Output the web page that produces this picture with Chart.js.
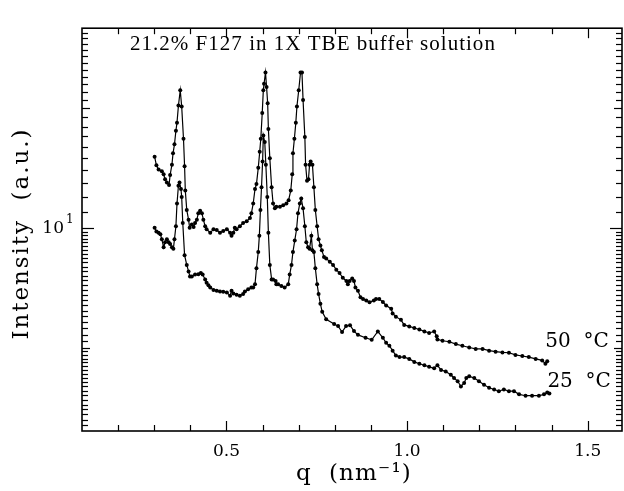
<!DOCTYPE html>
<html>
<head>
<meta charset="utf-8">
<script src="https://cdn.jsdelivr.net/npm/chart.js@4.4.1/dist/chart.umd.min.js"></script>
<style>
  html, body { margin: 0; padding: 0; background: #fff; overflow: hidden; }
  #wrap { width: 624px; height: 491px; }
</style>
</head>
<body>
<div id="wrap"><canvas id="c" width="624" height="491"></canvas></div>
<script>
// ---------- data ----------
const chartTitle = "21.2% F127 in 1X TBE buffer solution";
const xTitle = "q  (nm\u207B\u00B9)";
const yTitle = "Intensity  (a.u.)";
const seriesNames = ["50  \u00B0C", "25  \u00B0C"];

const qHot = [0.301,0.306,0.312,0.321,0.326,0.330,0.335,0.341,0.344,0.349,
0.352,0.356,0.360,0.363,0.367,0.372,0.376,0.381,0.384,0.386,
0.390,0.395,0.398,0.404,0.409,0.413,0.418,0.422,0.427,0.432,
0.436,0.441,0.445,0.455,0.464,0.473,0.482,0.491,0.501,0.510,
0.514,0.519,0.523,0.528,0.537,0.546,0.556,0.565,0.569,0.574,
0.579,0.583,0.588,0.592,0.595,0.599,0.602,0.604,0.608,0.611,
0.614,0.616,0.620,0.625,0.629,0.634,0.638,0.648,0.657,0.666,
0.672,0.678,0.682,0.684,0.688,0.692,0.695,0.700,0.705,0.709,
0.712,0.717,0.719,0.723,0.727,0.730,0.733,0.738,0.742,0.746,
0.751,0.755,0.760,0.764,0.770,0.776,0.786,0.795,0.804,0.813,
0.822,0.832,0.836,0.841,0.848,0.853,0.857,0.864,0.871,0.878,
0.887,0.896,0.908,0.914,0.923,0.933,0.942,0.956,0.960,0.969,
0.983,0.992,1.006,1.020,1.034,1.048,1.061,1.075,1.082,1.084,
1.098,1.117,1.135,1.153,1.172,1.190,1.209,1.227,1.245,1.264,
1.282,1.300,1.319,1.337,1.356,1.374,1.383,1.388];
const iHot = [15.12,14.38,14.03,13.90,13.65,13.27,13.02,12.83,13.60,14.43,
15.41,16.24,17.57,18.41,20.33,22.20,20.22,16.77,14.30,12.43,
11.11,10.50,10.02,10.21,10.07,10.30,10.50,10.90,11.06,10.90,
10.50,10.11,9.93,9.74,9.93,9.89,9.74,9.83,9.93,9.74,
9.56,9.74,10.02,9.93,10.11,10.30,10.40,10.60,10.90,11.53,
12.54,12.90,14.17,15.56,16.77,19.48,22.20,23.05,24.60,22.62,
20.60,17.74,14.98,12.66,11.53,11.21,11.32,11.32,11.42,11.53,
11.75,12.43,13.65,15.41,16.77,18.41,20.22,22.20,24.60,24.60,
20.99,16.93,14.43,13.15,13.27,14.43,14.71,14.43,12.66,11.11,
10.11,9.38,9.04,8.79,8.46,8.39,8.23,8.08,7.86,7.71,
7.50,7.36,7.22,7.36,7.47,7.36,7.09,6.96,6.70,6.63,
6.58,6.51,6.58,6.63,6.63,6.52,6.39,6.27,6.10,5.99,
5.88,5.71,5.66,5.61,5.56,5.50,5.45,5.50,5.35,5.25,
5.21,5.18,5.11,5.06,5.01,4.97,4.97,4.92,4.89,4.87,
4.86,4.80,4.77,4.74,4.69,4.65,4.56,4.63];

const qCold = [0.301,0.306,0.312,0.317,0.321,0.326,0.330,0.335,0.340,0.344,
0.349,0.353,0.356,0.360,0.363,0.367,0.370,0.374,0.376,0.379,
0.384,0.390,0.395,0.399,0.404,0.413,0.422,0.429,0.434,0.441,
0.445,0.450,0.455,0.464,0.473,0.482,0.491,0.501,0.510,0.514,
0.519,0.528,0.537,0.546,0.551,0.560,0.569,0.574,0.579,0.583,
0.588,0.591,0.594,0.597,0.600,0.602,0.606,0.609,0.613,0.616,
0.620,0.625,0.629,0.636,0.638,0.643,0.652,0.661,0.671,0.675,
0.680,0.684,0.689,0.694,0.698,0.703,0.707,0.712,0.717,0.721,
0.726,0.730,0.735,0.738,0.742,0.746,0.751,0.755,0.760,0.765,
0.776,0.798,0.809,0.820,0.831,0.842,0.853,0.864,0.885,0.902,
0.919,0.933,0.942,0.951,0.960,0.969,0.979,0.992,1.006,1.020,
1.034,1.048,1.061,1.075,1.084,1.094,1.107,1.121,1.130,1.140,
1.149,1.158,1.164,1.172,1.186,1.199,1.213,1.227,1.241,1.254,
1.268,1.282,1.296,1.310,1.328,1.346,1.365,1.379,1.388,1.394];
const iCold = [10.02,9.80,9.74,9.65,9.38,8.95,9.21,9.38,9.21,9.12,
8.95,8.87,9.38,10.11,11.53,12.78,13.02,12.54,11.97,10.30,
8.55,8.08,7.78,7.56,7.56,7.64,7.66,7.71,7.64,7.43,
7.29,7.18,7.09,6.99,6.96,6.93,6.92,6.89,6.76,6.96,
6.85,6.80,6.76,6.83,6.93,7.02,7.09,7.09,7.22,7.93,
8.71,9.56,11.11,12.66,14.71,17.08,16.45,14.43,11.97,9.74,
8.08,7.43,7.43,7.36,7.22,7.22,7.15,7.09,7.22,7.64,
8.08,8.71,9.30,9.93,10.90,11.53,11.86,11.21,10.11,9.21,
8.95,8.87,9.56,8.79,8.71,7.93,7.22,6.83,6.45,6.16,
5.90,5.74,5.67,5.48,5.67,5.70,5.51,5.39,5.30,5.24,
5.50,5.30,5.15,5.06,4.92,4.78,4.74,4.74,4.69,4.61,
4.56,4.52,4.48,4.44,4.52,4.40,4.36,4.28,4.20,4.12,
4.00,4.08,4.20,4.24,4.20,4.12,4.04,3.97,3.93,3.89,
3.93,3.89,3.89,3.82,3.79,3.79,3.79,3.82,3.86,3.84];

// axis ranges and tick values
const xRange = [0.1, 1.595];
const yRange = [3.09, 31.8];
const xLabelTicks = [0.5, 1.0, 1.5];
const xMinorTicks = [0.2,0.3,0.4,0.5,0.6,0.7,0.8,0.9,1.0,1.1,1.2,1.3,1.4,1.5];
const yLabelTicks = [10];
const yMinorTicks = [
  31,30,29,28,27,26,25,24,23,22,21,20,19,18,17,16,15,14,13,12,11,10,
  9.8,9.6,9.4,9.2,9.0,8.8,8.6,8.4,8.2,8.0,7.8,7.6,7.4,7.2,7.0,6.8,6.6,6.4,6.2,6.0,
  5.8,5.6,5.4,5.2,5.0,4.9,4.8,4.7,4.6,4.5,4.4,4.3,4.2,4.1,4.0,3.9,3.8,3.7,3.6,3.5,3.4,3.3,3.2
];
const yLongTicks = [10, 20, 5];

// ---------- chart ----------
const toPts = (xs, ys) => xs.map((x, i) => ({ x: x, y: ys[i] }));
const serif = "'DejaVu Serif', serif";

// draw text stretched to a target width with letter spacing
function spacedText(ctx, text, x, y, width) {
  ctx.letterSpacing = '0px';
  const w0 = ctx.measureText(text).width;
  const n = Array.from(text).length;
  const ls = Math.max(0, (width - w0) / n);
  ctx.letterSpacing = ls.toFixed(2) + 'px';
  ctx.fillText(text, x, y);
  ctx.letterSpacing = '0px';
}

const frameAndTicks = {
  id: 'frameAndTicks',
  afterDraw(chart) {
    const { ctx, chartArea: a, scales: { x, y } } = chart;
    ctx.save();
    ctx.strokeStyle = '#000';
    ctx.lineWidth = 1.6;
    ctx.strokeRect(a.left, a.top, a.right - a.left, a.bottom - a.top);
    ctx.lineWidth = 1.2;
    const seg = (x1, y1, x2, y2) => { ctx.beginPath(); ctx.moveTo(x1, y1); ctx.lineTo(x2, y2); ctx.stroke(); };
    xMinorTicks.forEach(v => {
      const px = Math.round(x.getPixelForValue(v)) + 0.5;
      const L = xLabelTicks.some(t => Math.abs(t - v) < 1e-9) ? 10 : 6;
      seg(px, a.bottom, px, a.bottom - L);
      seg(px, a.top, px, a.top + L);
    });
    yMinorTicks.forEach(v => {
      const py = Math.round(y.getPixelForValue(v)) + 0.5;
      const L = v === 10 ? 12 : (yLongTicks.includes(v) ? 8 : 6);
      seg(a.left, py, a.left + L, py);
      seg(a.right, py, a.right - L, py);
    });
    ctx.fillStyle = '#000';
    // superscript of the 10^1 label
    ctx.font = "12px " + serif;
    ctx.textAlign = 'left';
    ctx.textBaseline = 'middle';
    ctx.fillText('1', a.left - 16, y.getPixelForValue(10) - 8);
    // title inside the frame
    ctx.font = "21px 'Liberation Serif', serif";
    ctx.textBaseline = 'alphabetic';
    spacedText(ctx, chartTitle, a.left + 48, a.top + 22, 366);
    // axis titles
    ctx.font = "23px " + serif;
    ctx.textAlign = 'center';
    ctx.textBaseline = 'middle';
    spacedText(ctx, xTitle, (a.left + a.right) / 2 + 2, 474, 116);
    ctx.save();
    ctx.translate(22, (a.top + a.bottom) / 2 + 4);
    ctx.rotate(-Math.PI / 2);
    spacedText(ctx, yTitle, 0, 0, 212);
    ctx.restore();
    // series labels next to the last point of each curve
    ctx.font = "20px " + serif;
    ctx.textAlign = 'left';
    ctx.textBaseline = 'middle';
    const offs = [19, 12];
    chart.data.datasets.forEach((ds, i) => {
      const meta = chart.getDatasetMeta(i);
      const last = meta.data[meta.data.length - 1];
      ctx.fillText(ds.label, last.x - 2, last.y - offs[i]);
    });
    ctx.restore();
  }
};

const dsStyle = {
  borderColor: '#000',
  borderWidth: 1.2,
  pointRadius: 2,
  pointBackgroundColor: '#000',
  pointBorderWidth: 0,
  pointHoverRadius: 2,
  tension: 0,
  fill: false
};

new Chart(document.getElementById('c'), {
  type: 'line',
  data: {
    datasets: [
      Object.assign({ label: seriesNames[0], data: toPts(qHot, iHot) }, dsStyle),
      Object.assign({ label: seriesNames[1], data: toPts(qCold, iCold) }, dsStyle)
    ]
  },
  options: {
    responsive: false,
    animation: false,
    events: [],
    layout: { padding: { top: 16, right: 1, left: 0, bottom: 0 } },
    plugins: { legend: { display: false }, tooltip: { enabled: false } },
    scales: {
      x: {
        type: 'linear',
        min: xRange[0], max: xRange[1],
        grid: { display: false, drawTicks: false },
        border: { display: false },
        afterBuildTicks: s => { s.ticks = xLabelTicks.map(v => ({ value: v })); },
        afterFit: s => { s.height = 60; },
        ticks: {
          padding: 10,
          color: '#000',
          font: { family: serif, size: 17 },
          callback: v => Number(v).toFixed(1)
        },
        title: { display: false }
      },
      y: {
        type: 'logarithmic',
        min: yRange[0], max: yRange[1],
        grid: { display: false, drawTicks: false },
        border: { display: false },
        afterBuildTicks: s => { s.ticks = yLabelTicks.map(v => ({ value: v })); },
        afterFit: s => { s.width = 82; },
        ticks: {
          padding: 18,
          color: '#000',
          font: { family: serif, size: 17 },
          callback: v => (v === 10 ? '10' : '')
        },
        title: { display: false }
      }
    }
  },
  plugins: [frameAndTicks]
});
</script>
</body>
</html>
